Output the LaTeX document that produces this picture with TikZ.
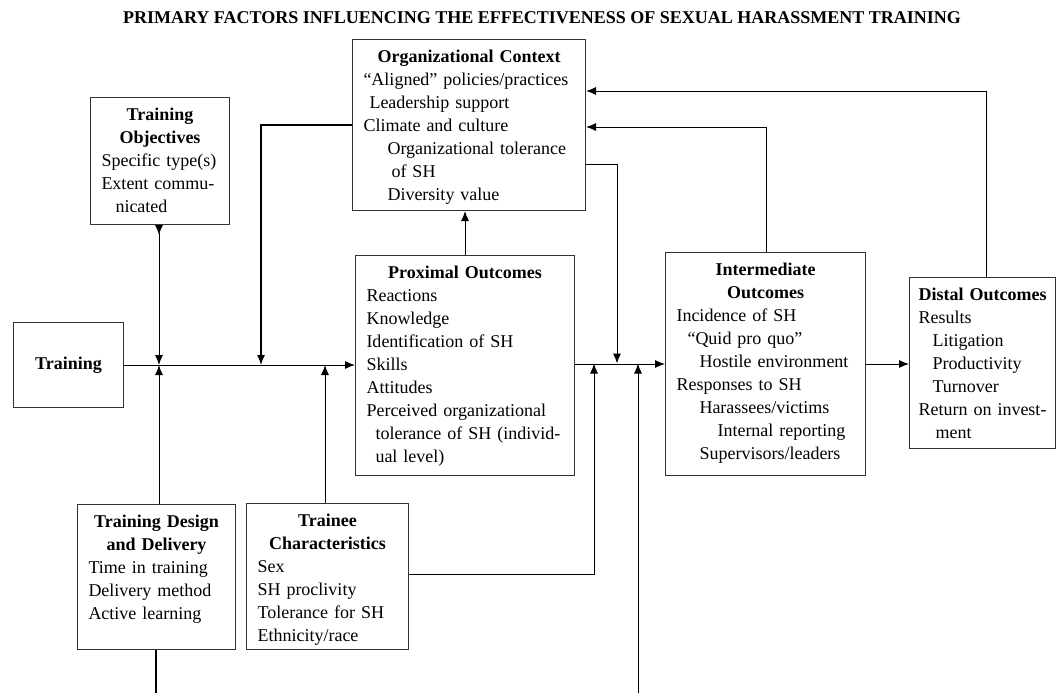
\documentclass[tikz,border=0pt]{standalone}
\usepackage{fontspec}
\setmainfont{Liberation Serif}
\usetikzlibrary{arrows.meta}
\newcommand{\boxhd}[1]{\makebox[\linewidth]{\textbf{#1}}}
\begin{document}
\begin{tikzpicture}[x=1pt,y=-1pt,
  box/.style={draw=black!80,line width=1pt,anchor=north west,align=left,inner xsep=11pt,inner ysep=5pt,text height=18pt,font=\fontsize{18}{23}\selectfont},
  arr/.style={line width=1pt,-{Latex[length=10pt,width=8pt]}},
  ln/.style={line width=1.2pt}]
\useasboundingbox (0,0) rectangle (1056,693);
\node (title) at (542,18) {\fontsize{18}{22}\selectfont\textbf{PRIMARY FACTORS INFLUENCING THE EFFECTIVENESS OF SEXUAL HARASSMENT TRAINING}};
\node[box,text width=211pt,text depth=143pt] (org) at (352,39)
  {\boxhd{Organizational Context}\\ ``Aligned'' policies/practices\\ \hspace*{6pt}Leadership support\\ Climate and culture\\ \hspace*{24pt}Organizational tolerance\\ \hspace*{28pt}of SH\\ \hspace*{24pt}Diversity value};
\node[box,text width=117pt,text depth=99pt] (obj) at (90,97)
  {\boxhd{Training}\\ \boxhd{Objectives}\\ Specific type(s)\\ Extent commu-\\ \hspace*{14pt}nicated};
\node[draw=black!80,line width=1pt,anchor=north west,minimum width=110pt,minimum height=85pt,inner sep=0pt,font=\fontsize{18}{23}\selectfont\bfseries] (train) at (13,322) {Training};
\node[box,text width=197pt,text depth=192pt] (prox) at (355,255)
  {\boxhd{Proximal Outcomes}\\ Reactions\\ Knowledge\\ Identification of SH\\ Skills\\ Attitudes\\ Perceived organizational\\ \hspace*{9pt}tolerance of SH (individ-\\ \hspace*{9pt}ual level)};
\node[box,text width=178pt,text depth=195pt] (inter) at (665,252)
  {\boxhd{Intermediate}\\ \boxhd{Outcomes}\\ Incidence of SH\\ \hspace*{11pt}``Quid pro quo''\\ \hspace*{23pt}Hostile environment\\ Responses to SH\\ \hspace*{23pt}Harassees/victims\\ \hspace*{41pt}Internal reporting\\ \hspace*{23pt}Supervisors/leaders};
\node[box,inner xsep=9pt,text width=128pt,text depth=143pt] (dis) at (909,277)
  {\boxhd{Distal Outcomes}\\ Results\\ \hspace*{14pt}Litigation\\ \hspace*{14pt}Productivity\\ \hspace*{14pt}Turnover\\ Return on invest-\\ \hspace*{17pt}ment};
\node[box,text width=136pt,text depth=117pt] (des) at (77,504)
  {\boxhd{Training Design}\\ \boxhd{and Delivery}\\ Time in training\\ Delivery method\\ Active learning};
\node[box,text width=140pt,text depth=118pt] (tr) at (246,503)
  {\boxhd{Trainee}\\ \boxhd{Characteristics}\\ Sex\\ SH proclivity\\ Tolerance for SH\\ Ethnicity/race};
\coordinate (jobj) at (159,365);
\coordinate (corgl) at (261,125);
\coordinate (jorg) at (261,365);
\coordinate (jtr) at (325,365);
\coordinate (corgr) at (617,164);
\coordinate (jorgr) at (617,363.5);
\coordinate (ctrr) at (594,574);
\coordinate (jtrr) at (594,363.5);
\coordinate (cbot) at (638,693);
\coordinate (jbot) at (638,363.5);
\coordinate (cint) at (766,127);
\coordinate (cdis) at (986,91);
\coordinate (cdes) at (156,693);
\draw[arr] (train.east) -- (train.east -| prox.west);
\draw[arr,{Latex[length=10pt,width=8pt,reversed]}-{Latex[length=10pt,width=8pt]}] (obj.south -| jobj) -- (jobj);
\draw[arr] (des.north -| jobj) -- (jobj);
\draw[arr,line width=1.2pt] (org.west |- corgl) -- (corgl) -- (jorg);
\draw[arr] (tr.north -| jtr) -- (jtr);
\draw[arr] (prox.north) -- (prox.north |- org.south);
\draw[arr] (inter.west -| prox.east) -- (inter.west);
\draw[arr] (org.east |- corgr) -- (corgr) -- (jorgr);
\draw[arr] (tr.east |- ctrr) -- (ctrr) -- (jtrr);
\draw[arr] (cbot) -- (jbot);
\draw[arr] (inter.north -| cint) -- (cint) -- (org.east |- cint);
\draw[arr] (dis.north -| cdis) -- (cdis) -- (org.east |- cdis);
\draw[arr] (inter.east) -- (inter.east -| dis.west);
\draw[ln] (des.south -| cdes) -- (cdes);
\end{tikzpicture}
\end{document}
